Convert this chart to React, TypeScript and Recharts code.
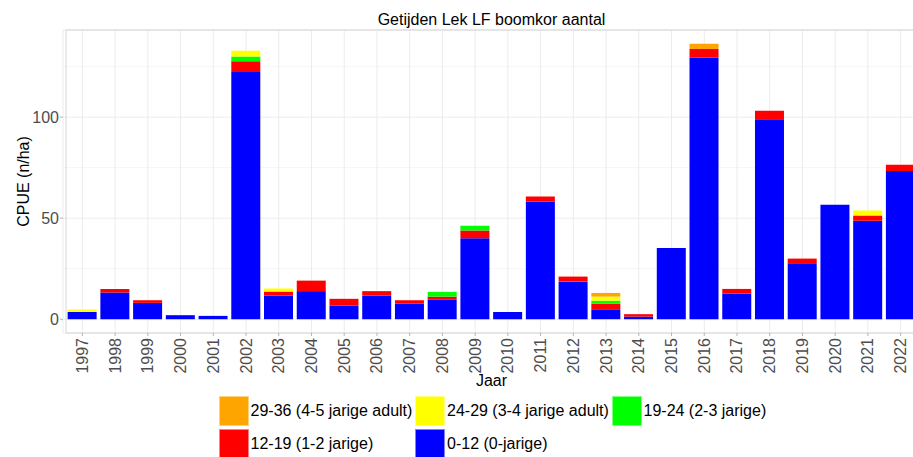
import React from "react";
import {
  Bar,
  BarChart,
  CartesianGrid,
  ReferenceArea,
  XAxis,
  YAxis,
} from "recharts";

const years = [
  "1997", "1998", "1999", "2000", "2001", "2002", "2003", "2004", "2005",
  "2006", "2007", "2008", "2009", "2010", "2011", "2012", "2013", "2014",
  "2015", "2016", "2017", "2018", "2019", "2020", "2021", "2022",
];

// CPUE (n/ha) per lengteklasse
const len0_12 = [
  3.6, 13.2, 8.1, 2.0, 1.65, 122.3, 11.7, 13.9, 6.8, 11.7, 7.8, 9.6, 40.1,
  3.6, 58.3, 18.6, 4.6, 1.3, 35.3, 129.5, 12.7, 99.0, 27.7, 56.6, 48.7, 73.4,
];
const len12_19 = [
  0, 1.8, 1.3, 0, 0, 5.3, 2.0, 5.2, 3.3, 2.2, 1.6, 1.6, 3.8, 0, 2.4, 2.5,
  3.0, 1.2, 0, 4.2, 2.3, 4.1, 2.3, 0, 2.6, 3.0,
];
const len19_24 = [
  0, 0, 0, 0, 0, 2.4, 0, 0, 0, 0, 0, 2.3, 2.3, 0, 0, 0, 1.6, 0, 0, 0, 0, 0,
  0, 0, 0, 0,
];
const len24_29 = [
  1.2, 0, 0, 0, 0, 2.8, 1.5, 0, 0, 0, 0, 0, 0, 0, 0, 0, 2.0, 0, 0, 0, 0, 0,
  0, 0, 2.5, 0,
];
const len29_36 = [
  0, 0, 0, 0, 0, 0, 0, 0, 0, 0, 0, 0, 0, 0, 0, 0, 1.8, 0, 0, 2.6, 0, 0, 0,
  0, 0, 0,
];

const yTicks = [0, 50, 100];
const yMinor = [25, 75, 125];

const series = [
  { key: "c0_12", label: "0-12 (0-jarige)", color: "#0000ff" },
  { key: "c12_19", label: "12-19 (1-2 jarige)", color: "#ff0000" },
  { key: "c19_24", label: "19-24 (2-3 jarige)", color: "#00ff00" },
  { key: "c24_29", label: "24-29 (3-4 jarige adult)", color: "#ffff00" },
  { key: "c29_36", label: "29-36 (4-5 jarige adult)", color: "#ffa500" },
];

// legend order as in the picture (row by row)
const legendOrder = ["c29_36", "c24_29", "c19_24", "c12_19", "c0_12"];

const data = years.map((year, i) => ({
  year,
  c0_12: len0_12[i],
  c12_19: len12_19[i],
  c19_24: len19_24[i],
  c24_29: len24_29[i],
  c29_36: len29_36[i],
}));

const maxTotal = Math.max(
  ...data.map((d) => d.c0_12 + d.c12_19 + d.c19_24 + d.c24_29 + d.c29_36)
);
const yDomain = [-0.05 * maxTotal, 1.05 * maxTotal];

const FONT = '"Liberation Sans", Arial, sans-serif';

function YearTick(props: any) {
  const { x, y, payload } = props;
  return (
    <text
      x={x}
      y={y}
      transform={`rotate(-90, ${x}, ${y})`}
      textAnchor="end"
      dominantBaseline="central"
      fontSize={16}
      fill="#4d4d4d"
    >
      {payload.value}
    </text>
  );
}

export default function App() {
  return (
    <div
      style={{
        position: "absolute",
        left: 0,
        top: 0,
        width: 913,
        height: 457,
        overflow: "hidden",
        background: "#fff",
        fontFamily: FONT,
      }}
    >
      {/* Title */}
      <div
        style={{
          position: "absolute",
          left: 291.5,
          width: 400,
          top: 11.5,
          lineHeight: "16px",
          fontSize: 16,
          textAlign: "center",
          color: "#000",
        }}
      >
        Getijden Lek LF boomkor aantal
      </div>

      <BarChart
        width={925}
        height={457}
        data={data}
        margin={{ top: 30, right: 5, left: 0, bottom: 0 }}
        barCategoryGap="5%"
      >
        {/* minor grid first, then major */}
        <CartesianGrid
          vertical={false}
          horizontalValues={yMinor}
          stroke="#f6f6f6"
          strokeWidth={1}
        />
        <CartesianGrid stroke="#ececec" strokeWidth={1} />
        <ReferenceArea
          y1={yDomain[0]}
          y2={yDomain[1]}
          fill="none"
          stroke="#d6d6d6"
          strokeWidth={1}
          ifOverflow="visible"
        />
        <XAxis
          dataKey="year"
          height={124}
          padding={{ left: 3, right: 3 }}
          axisLine={false}
          tickLine={{ stroke: "#b3b3b3" }}
          tickSize={3}
          tickMargin={2}
          interval={0}
          tick={<YearTick />}
          label={{
            value: "Jaar",
            position: "insideTop",
            offset: 42,
            fontSize: 16,
            fill: "#000",
          }}
        />
        <YAxis
          width={63}
          type="number"
          domain={yDomain}
          allowDataOverflow
          ticks={yTicks}
          axisLine={false}
          tickLine={{ stroke: "#b3b3b3" }}
          tickSize={3}
          tickMargin={1}
          tick={{ fontSize: 16, fill: "#4d4d4d" }}
          label={{
            value: "CPUE (n/ha)",
            angle: -90,
            position: "insideLeft",
            offset: 23.5,
            fontSize: 16,
            fill: "#000",
            style: { textAnchor: "middle" },
          }}
        />
        {series.map((s) => (
          <Bar
            key={s.key}
            dataKey={s.key}
            stackId="a"
            fill={s.color}
            isAnimationActive={false}
          />
        ))}
      </BarChart>

      {/* Legend */}
      <div
        style={{
          position: "absolute",
          left: 218.5,
          top: 396,
          display: "grid",
          gridTemplateColumns: "196.5px 196.5px 196.5px",
          rowGap: 3,
          fontSize: 16,
          color: "#000",
        }}
      >
        {legendOrder.map((k) => {
          const s = series.find((x) => x.key === k)!;
          return (
            <div
              key={k}
              style={{ display: "flex", alignItems: "center", height: 30 }}
            >
              <span
                style={{
                  display: "inline-block",
                  width: 30,
                  height: 30,
                  background: s.color,
                  boxShadow: "inset 0 0 0 1px rgba(255,255,255,0.5)",
                  marginRight: 2,
                }}
              />
              <span style={{ whiteSpace: "nowrap" }}>{s.label}</span>
            </div>
          );
        })}
      </div>
    </div>
  );
}
